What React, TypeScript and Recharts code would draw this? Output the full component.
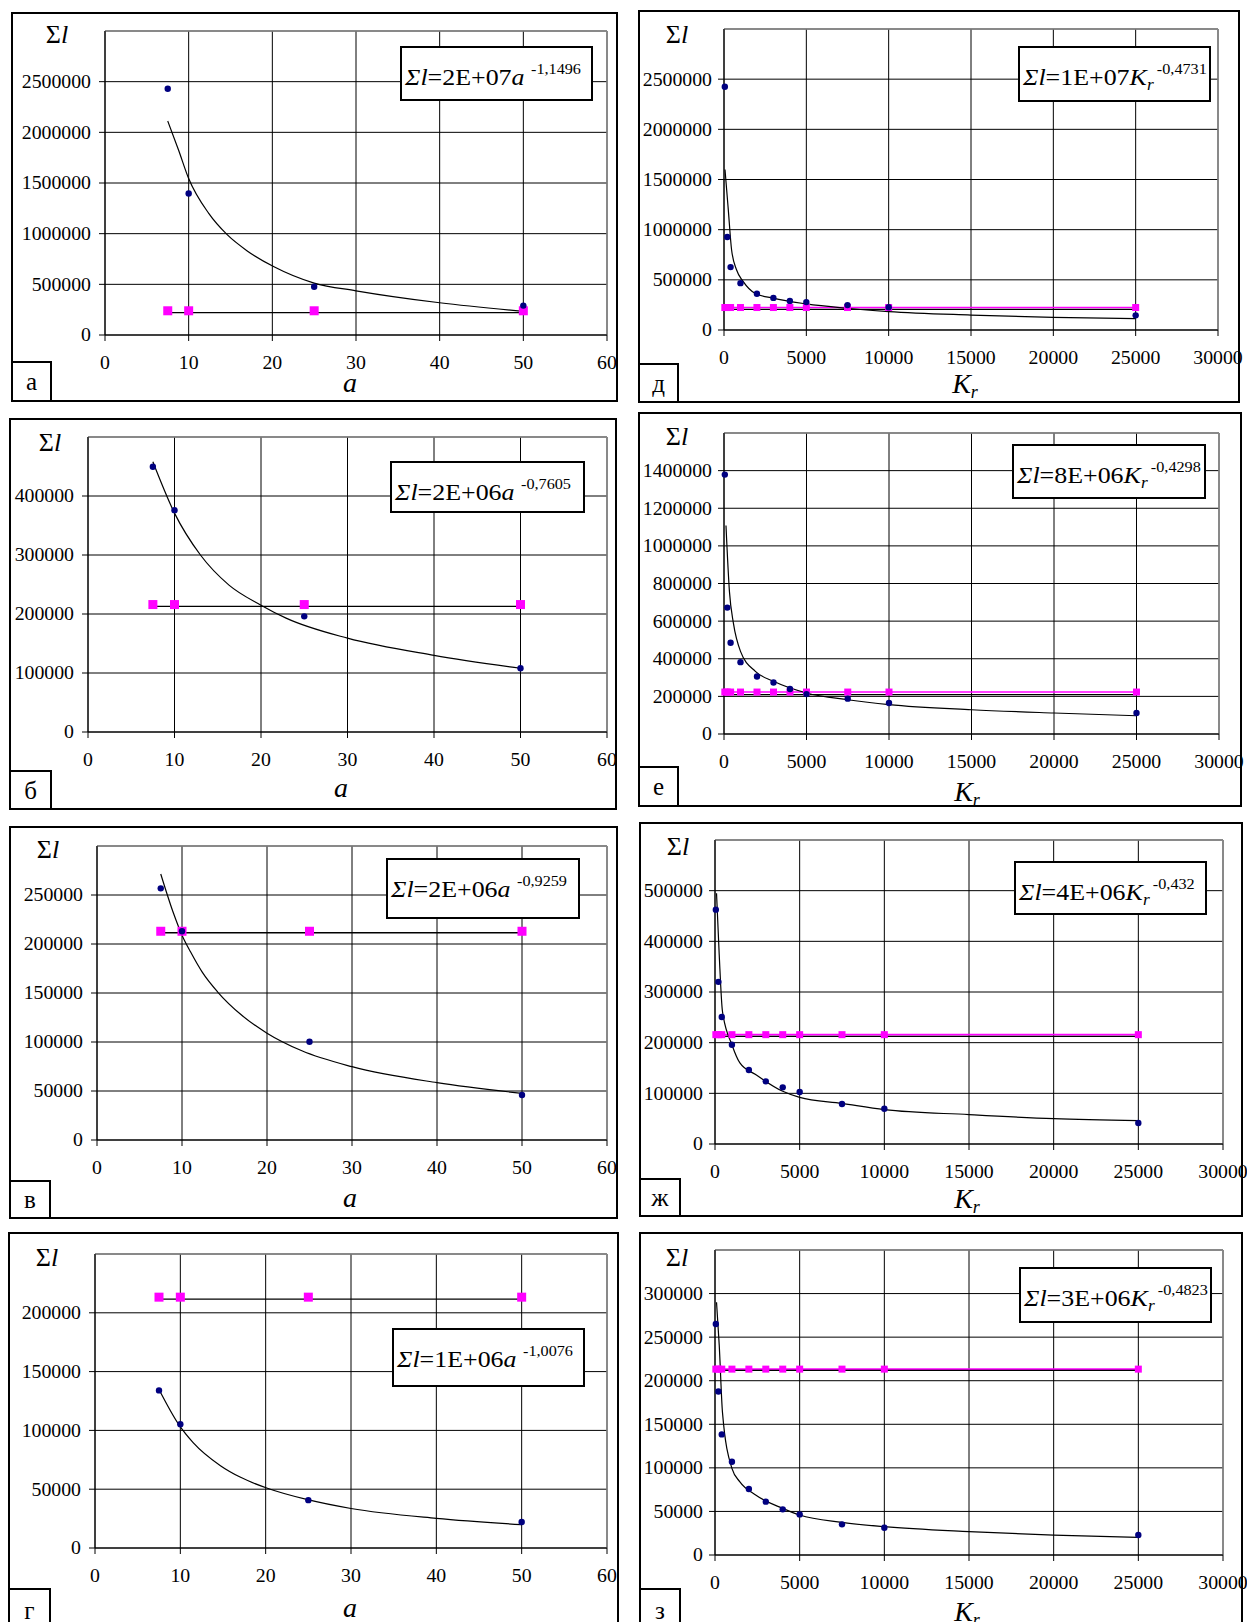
import React from "react";
import {
  ComposedChart,
  XAxis,
  YAxis,
  CartesianGrid,
  Line,
  Scatter,
  ReferenceLine,
} from "recharts";

// x values of the measurements
const aValues = [7.5, 10, 25, 50];
const krValues = [50, 200, 400, 1000, 2000, 3000, 4000, 5000, 7500, 10000, 25000];

const aTicks = [0, 10, 20, 30, 40, 50, 60];
const krTicks = [0, 5000, 10000, 15000, 20000, 25000, 30000];

// а
const sumA = [2430000, 1396000, 476000, 290000];
const pinkA = [239000, 239000, 239000, 239000];
const levelA = 220000;
const curveXA = [7.5, 8.8, 10, 12.4, 14.6, 17, 20.2, 25, 30, 40, 50];
const curveYA = [2111000, 1823000, 1544000, 1200000, 990000, 830000, 673000, 512000, 436000, 318000, 233000];
const ticksA = [0, 500000, 1000000, 1500000, 2000000, 2500000];

// б
const sumB = [449600, 376000, 196000, 108000];
const pinkB = [216000, 216000, 216000, 216000];
const levelB = 213000;
const curveXB = [7.5, 10, 13, 16.3, 20, 22.9, 30, 40, 50];
const curveYB = [458000, 371000, 300000, 249000, 215000, 193000, 159000, 130000, 108000];
const ticksB = [0, 100000, 200000, 300000, 400000];

// в
const sumV = [256800, 213000, 100300, 45900];
const pinkV = [213000, 213000, 213000, 213000];
const levelV = 211500;
const curveXV = [7.5, 9, 10, 11, 12.4, 14.2, 17, 20, 24.1, 30, 40, 50];
const curveYV = [271400, 231300, 209000, 192000, 171000, 151000, 127500, 109000, 91000, 74800, 58500, 47600];
const ticksV = [0, 50000, 100000, 150000, 200000, 250000];

// г
const sumG = [134000, 105200, 40700, 22100];
const pinkG = [213300, 213300, 213300, 213300];
const levelG = 211600;
const curveXG = [7.5, 9.8, 11.5, 14.7, 17, 20.2, 24.8, 30, 40, 50];
const curveYG = [134700, 105100, 89600, 70000, 60300, 50800, 41300, 33600, 25200, 19800];
const ticksG = [0, 50000, 100000, 150000, 200000];

// д
const sumD = [2424000, 927000, 627000, 467000, 362000, 320000, 290000, 278000, 248000, 226000, 146000];
const pinkD = [224000, 224000, 224000, 224000, 224000, 224000, 224000, 224000, 224000, 224000, 224000];
const levelD = 206000;
const curveXD = [60, 260, 460, 760, 1170, 1880, 2980, 5000, 7400, 10000, 15000, 20000, 25000];
const curveYD = [1600000, 1200000, 800000, 600000, 483000, 367000, 317000, 260000, 217000, 183000, 149000, 126000, 113000];
const ticksD = [0, 500000, 1000000, 1500000, 2000000, 2500000];

// е
const sumE = [1379000, 672000, 485000, 382000, 306000, 274000, 239000, 212000, 188000, 165000, 111500];
const pinkE = [223000, 223000, 223000, 223000, 223000, 223000, 223000, 223000, 223000, 223000, 223000];
const levelE = 209000;
const curveXE = [120, 330, 570, 1000, 1900, 3000, 5000, 7500, 10000, 15000, 20000, 25000];
const curveYE = [1108000, 757000, 589000, 439000, 333000, 280000, 218000, 182000, 156000, 129000, 111500, 97000];
const ticksE = [0, 200000, 400000, 600000, 800000, 1000000, 1200000, 1400000];

// ж
const sumZh = [462500, 320000, 250600, 196000, 146000, 123700, 111800, 102600, 79000, 69700, 41400];
const pinkZh = [215800, 215800, 215800, 215800, 215800, 215800, 215800, 215800, 215800, 215800, 215800];
const levelZh = 212500;
const curveXZh = [90, 250, 440, 1000, 1470, 2400, 4000, 5000, 7500, 10000, 15000, 20000, 25000];
const curveYZh = [495000, 373000, 262000, 196000, 160000, 137000, 104000, 92000, 80000, 67800, 58000, 50000, 46000];
const ticksZh = [0, 100000, 200000, 300000, 400000, 500000];

// з
const sumZ = [265000, 187700, 138400, 107000, 75700, 61200, 52400, 46600, 35200, 31300, 22900];
const pinkZ = [213300, 213300, 213300, 213300, 213300, 213300, 213300, 213300, 213300, 213300, 213300];
const levelZ = 211800;
const curveXZ = [90, 250, 440, 1000, 1470, 2400, 4000, 5000, 7500, 10000, 15000, 20000, 25000];
const curveYZ = [290000, 240800, 164000, 99400, 84000, 68800, 53500, 45900, 37500, 32500, 26800, 22900, 20300];
const ticksZ = [0, 50000, 100000, 150000, 200000, 250000, 300000];

const SERIF = "Liberation Serif";
const BLUE = "#000080";
const PINK = "#ff00ff";
const XH = 40;

type Box = { x: number; y: number; w: number; h: number };
type Plot = { l: number; r: number; t: number; b: number };

type PanelDef = {
  box: Box;
  plot: Plot;
  eq: Box;
  letterBox: Box;
  letter: string;
  kr: boolean;
  titlePos: [number, number];
  sigmaPos: [number, number];
  yMax: number;
  yTicks: number[];
  sums: number[];
  pinks: number[];
  level: number;
  curveX: number[];
  curveY: number[];
  coef: string;
  exp: string;
};

const tickStyle = { fontFamily: SERIF, fontSize: 18, fill: "#000" };

const YTick = (p: any) => (
  <g transform={`translate(${p.x},${p.y})`}>
    <text x={0} y={0} dy="0.36em" textAnchor="end" transform="scale(1.1,1)" style={tickStyle}>
      {String(p.payload.value)}
    </text>
  </g>
);

const XTick = (p: any) => (
  <g transform={`translate(${p.x},${p.y})`}>
    <text x={0} y={0} dy="0.71em" textAnchor="middle" transform="scale(1.1,1)" style={tickStyle}>
      {String(p.payload.value)}
    </text>
  </g>
);

const dotShape = (p: any) => <circle cx={p.cx} cy={p.cy} r={3.2} fill={BLUE} />;
const bigSquare = (p: any) => (
  <rect x={p.cx - 4.5} y={p.cy - 4.5} width={9} height={9} fill={PINK} />
);
const smallSquare = (p: any) => (
  <rect x={p.cx - 3.5} y={p.cy - 3.5} width={7} height={7} fill={PINK} />
);

function Panel(d: PanelDef) {
  const xs = d.kr ? krValues : aValues;
  const xTicks = d.kr ? krTicks : aTicks;
  const xMax = xTicks[xTicks.length - 1];
  const blue = xs.map((x, i) => ({ x, y: d.sums[i] }));
  const pink = xs.map((x, i) => ({ x, y: d.pinks[i] }));
  const curve = d.curveX.map((x, i) => ({ x, y: d.curveY[i] }));
  const flat = [
    { x: xs[0], y: d.level },
    { x: xs[xs.length - 1], y: d.level },
  ];
  const margin = {
    top: d.plot.t - d.box.y,
    right: d.box.x + d.box.w - d.plot.r,
    left: 0,
    bottom: d.box.y + d.box.h - d.plot.b - XH,
  };
  const abs = (b: Box): React.CSSProperties => ({
    position: "absolute",
    left: b.x - d.box.x,
    top: b.y - d.box.y,
    width: b.w,
    height: b.h,
    boxSizing: "border-box",
  });
  return (
    <div
      style={{
        position: "absolute",
        left: d.box.x,
        top: d.box.y,
        width: d.box.w,
        height: d.box.h,
      }}
    >
      <ComposedChart width={d.box.w} height={d.box.h} margin={margin}>
        <CartesianGrid stroke="#000" strokeWidth={1} />
        <XAxis
          dataKey="x"
          type="number"
          domain={[0, xMax]}
          ticks={xTicks}
          interval={0}
          height={XH}
          stroke="#000"
          tickSize={6}
          tickMargin={15}
          tick={XTick}
        />
        <YAxis
          type="number"
          domain={[0, d.yMax]}
          ticks={d.yTicks}
          interval={0}
          width={d.plot.l - d.box.x}
          stroke="#000"
          tickSize={6}
          tickMargin={d.kr ? 6 : 8}
          tick={YTick}
        />
        <ReferenceLine y={d.yMax} stroke="#8c8c8c" strokeWidth={1.5} />
        <ReferenceLine x={xMax} stroke="#8c8c8c" strokeWidth={1.5} />
        {d.kr && (
          <Line
            data={pink}
            dataKey="y"
            stroke={PINK}
            strokeWidth={1.6}
            dot={false}
            isAnimationActive={false}
          />
        )}
        <Line
          data={flat}
          dataKey="y"
          stroke="#000"
          strokeWidth={1.3}
          dot={false}
          isAnimationActive={false}
        />
        <Line
          data={curve}
          dataKey="y"
          type="monotone"
          stroke="#000"
          strokeWidth={1.2}
          dot={false}
          isAnimationActive={false}
        />
        <Scatter
          data={pink}
          dataKey="y"
          shape={d.kr ? smallSquare : bigSquare}
          isAnimationActive={false}
        />
        <Scatter data={blue} dataKey="y" shape={dotShape} isAnimationActive={false} />
      </ComposedChart>

      <div
        style={{
          position: "absolute",
          left: 0,
          top: 0,
          width: d.box.w,
          height: d.box.h,
          border: "2px solid #000",
          boxSizing: "border-box",
          pointerEvents: "none",
        }}
      />

      <div
        style={{
          position: "absolute",
          left: d.sigmaPos[0] - d.box.x,
          top: d.sigmaPos[1] - d.box.y,
          transform: "translate(-50%,-50%)",
          fontFamily: SERIF,
          fontSize: 26,
          lineHeight: 1,
          whiteSpace: "nowrap",
        }}
      >
        Σ<i>l</i>
      </div>

      <div
        style={{
          position: "absolute",
          left: d.titlePos[0] - d.box.x,
          top: d.titlePos[1] - d.box.y,
          transform: "translate(-50%,-50%)",
          fontFamily: SERIF,
          fontSize: 28,
          lineHeight: 1,
          fontStyle: "italic",
          whiteSpace: "nowrap",
        }}
      >
        {d.kr ? (
          <>
            K<span style={{ fontSize: 18, verticalAlign: -5 }}>r</span>
          </>
        ) : (
          "a"
        )}
      </div>

      <div
        style={{
          ...abs(d.letterBox),
          border: "2px solid #000",
          background: "#fff",
          display: "flex",
          alignItems: "center",
          justifyContent: "center",
          fontFamily: SERIF,
          fontSize: 25,
          lineHeight: 1,
        }}
      >
        {d.letter}
      </div>

      <div
        style={{
          ...abs(d.eq),
          border: "2px solid #000",
          background: "#fff",
          fontFamily: SERIF,
          fontSize: 24,
          lineHeight: 1,
          paddingTop: 14,
          paddingLeft: 3,
          whiteSpace: "nowrap",
        }}
      >
        <span
          style={{
            display: "inline-block",
            transform: "scaleX(1.08)",
            transformOrigin: "left",
          }}
        >
          <i>Σl</i>={d.coef}
          {d.kr ? (
            <>
              <i>K</i>
              <i style={{ fontSize: 16, verticalAlign: -5 }}>r</i>
            </>
          ) : (
            <i>a</i>
          )}
          <span style={{ fontSize: 15, verticalAlign: 11, marginLeft: d.kr ? 3 : 6 }}>
            {d.exp}
          </span>
        </span>
      </div>
    </div>
  );
}

const panels: PanelDef[] = [
  {
    box: { x: 11, y: 12, w: 607, h: 390 },
    plot: { l: 105, r: 607, t: 31, b: 335 },
    eq: { x: 400, y: 46, w: 193, h: 55 },
    letterBox: { x: 11, y: 361, w: 41, h: 41 },
    letter: "а",
    kr: false,
    titlePos: [350, 383],
    sigmaPos: [57, 35],
    yMax: 3000000,
    yTicks: ticksA,
    sums: sumA,
    pinks: pinkA,
    level: levelA,
    curveX: curveXA,
    curveY: curveYA,
    coef: "2E+07",
    exp: "-1,1496",
  },
  {
    box: { x: 638, y: 10, w: 602, h: 393 },
    plot: { l: 724, r: 1218, t: 29, b: 330 },
    eq: { x: 1018, y: 46, w: 193, h: 56 },
    letterBox: { x: 638, y: 363, w: 41, h: 40 },
    letter: "д",
    kr: true,
    titlePos: [965, 385],
    sigmaPos: [677, 35],
    yMax: 3000000,
    yTicks: ticksD,
    sums: sumD,
    pinks: pinkD,
    level: levelD,
    curveX: curveXD,
    curveY: curveYD,
    coef: "1E+07",
    exp: "-0,4731",
  },
  {
    box: { x: 9, y: 418, w: 608, h: 392 },
    plot: { l: 88, r: 607, t: 437, b: 732 },
    eq: { x: 390, y: 461, w: 195, h: 52 },
    letterBox: { x: 9, y: 770, w: 43, h: 40 },
    letter: "б",
    kr: false,
    titlePos: [341, 788],
    sigmaPos: [50, 443],
    yMax: 500000,
    yTicks: ticksB,
    sums: sumB,
    pinks: pinkB,
    level: levelB,
    curveX: curveXB,
    curveY: curveYB,
    coef: "2E+06",
    exp: "-0,7605",
  },
  {
    box: { x: 638, y: 412, w: 604, h: 395 },
    plot: { l: 724, r: 1219, t: 433, b: 734 },
    eq: { x: 1012, y: 444, w: 194, h: 55 },
    letterBox: { x: 638, y: 766, w: 41, h: 41 },
    letter: "е",
    kr: true,
    titlePos: [967, 793],
    sigmaPos: [677, 437],
    yMax: 1600000,
    yTicks: ticksE,
    sums: sumE,
    pinks: pinkE,
    level: levelE,
    curveX: curveXE,
    curveY: curveYE,
    coef: "8E+06",
    exp: "-0,4298",
  },
  {
    box: { x: 9, y: 826, w: 609, h: 393 },
    plot: { l: 97, r: 607, t: 846, b: 1140 },
    eq: { x: 386, y: 858, w: 194, h: 61 },
    letterBox: { x: 9, y: 1180, w: 42, h: 39 },
    letter: "в",
    kr: false,
    titlePos: [350, 1198],
    sigmaPos: [48, 850],
    yMax: 300000,
    yTicks: ticksV,
    sums: sumV,
    pinks: pinkV,
    level: levelV,
    curveX: curveXV,
    curveY: curveYV,
    coef: "2E+06",
    exp: "-0,9259",
  },
  {
    box: { x: 639, y: 822, w: 604, h: 395 },
    plot: { l: 715, r: 1223, t: 840, b: 1144 },
    eq: { x: 1014, y: 861, w: 193, h: 54 },
    letterBox: { x: 639, y: 1178, w: 42, h: 39 },
    letter: "ж",
    kr: true,
    titlePos: [967, 1200],
    sigmaPos: [678, 847],
    yMax: 600000,
    yTicks: ticksZh,
    sums: sumZh,
    pinks: pinkZh,
    level: levelZh,
    curveX: curveXZh,
    curveY: curveYZh,
    coef: "4E+06",
    exp: "-0,432",
  },
  {
    box: { x: 8, y: 1232, w: 611, h: 400 },
    plot: { l: 95, r: 607, t: 1254, b: 1548 },
    eq: { x: 392, y: 1328, w: 193, h: 59 },
    letterBox: { x: 8, y: 1588, w: 43, h: 44 },
    letter: "г",
    kr: false,
    titlePos: [350, 1608],
    sigmaPos: [47, 1258],
    yMax: 250000,
    yTicks: ticksG,
    sums: sumG,
    pinks: pinkG,
    level: levelG,
    curveX: curveXG,
    curveY: curveYG,
    coef: "1E+06",
    exp: "-1,0076",
  },
  {
    box: { x: 639, y: 1232, w: 604, h: 400 },
    plot: { l: 715, r: 1223, t: 1250, b: 1555 },
    eq: { x: 1019, y: 1267, w: 193, h: 56 },
    letterBox: { x: 639, y: 1588, w: 42, h: 44 },
    letter: "з",
    kr: true,
    titlePos: [967, 1613],
    sigmaPos: [677, 1258],
    yMax: 350000,
    yTicks: ticksZ,
    sums: sumZ,
    pinks: pinkZ,
    level: levelZ,
    curveX: curveXZ,
    curveY: curveYZ,
    coef: "3E+06",
    exp: "-0,4823",
  },
];

export default function App() {
  return (
    <div
      style={{
        position: "fixed",
        left: 0,
        top: 0,
        width: 1247,
        height: 1622,
        overflow: "hidden",
        background: "#fff",
      }}
    >
      <style>{".recharts-surface { overflow: visible; }"}</style>
      {panels.map((p) => (
        <Panel key={p.letter} {...p} />
      ))}
    </div>
  );
}
